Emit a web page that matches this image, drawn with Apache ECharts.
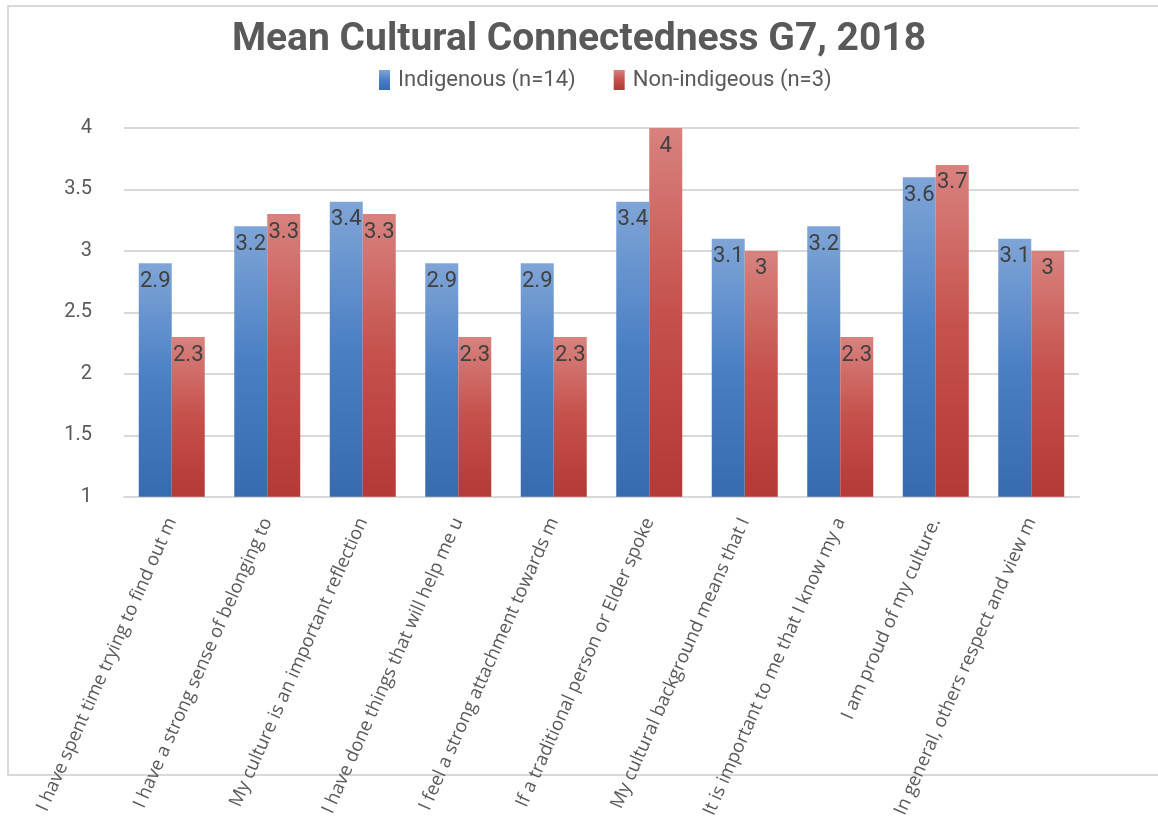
<!DOCTYPE html>
<html>
<head>
<meta charset="utf-8">
<script src="https://cdn.jsdelivr.net/npm/echarts@6/dist/echarts.min.js"></script>
<style>
html,body{margin:0;padding:0;background:#fff;}
#chart{width:1158px;height:821px;}
</style>
</head>
<body>
<div id="chart"></div>
<script>
var categories = [
  "I have spent time trying to find out m",
  "I have a strong sense of belonging to",
  "My culture is an important reflection",
  "I have done things that will help me u",
  "I feel a strong attachment towards m",
  "If a traditional person or Elder spoke",
  "My cultural background means that I",
  "It is important to me that I know my a",
  "I am proud of my culture.",
  "In general, others respect and view m"
];
var indigenous = [2.9, 3.2, 3.4, 2.9, 2.9, 3.4, 3.1, 3.2, 3.6, 3.1];
var nonIndigenous = [2.3, 3.3, 3.3, 2.3, 2.3, 4, 3, 2.3, 3.7, 3];
var seriesNames = ["Indigenous (n=14)", "Non-indigeous (n=3)"];

var narrow = "'Roboto', 'Liberation Sans', sans-serif";

function grad(top, mid, bot) {
  return new echarts.graphic.LinearGradient(0, 0, 0, 1, [
    {offset: 0, color: top},
    {offset: 0.5, color: mid},
    {offset: 1, color: bot}
  ]);
}
var blue = grad('#7fa5d7', '#4a7fc4', '#386aaf');
var red = grad('#d8827e', '#c5504c', '#b33a36');

var chart = echarts.init(document.getElementById('chart'), null, {renderer: 'canvas'});
chart.setOption({
  animation: false,
  backgroundColor: '#ffffff',
  graphic: [{
    type: 'rect',
    shape: {x: 8, y: 6, width: 1170, height: 769},
    style: {fill: 'none', stroke: '#d9d9d9', lineWidth: 2},
    silent: true,
    z: -10
  }],
  title: {
    text: 'Mean Cultural Connectedness G7, 2018',
    left: 'center',
    top: 16,
    textStyle: {fontFamily: narrow, fontWeight: 'bold', fontSize: 39, color: '#595959'}
  },
  legend: {
    top: 64,
    left: 374,
    itemWidth: 11,
    itemHeight: 20,
    itemGap: 38,
    icon: 'rect',
    textStyle: {fontFamily: narrow, fontSize: 22, color: '#595959', padding: [0,0,0,3]},
    data: seriesNames
  },
  grid: {left: 124, right: 79, top: 128, bottom: 323, containLabel: false},
  xAxis: {
    type: 'category',
    data: categories,
    axisLine: {show: true, lineStyle: {color: '#d9d9d9', width: 2}},
    axisTick: {show: false},
    axisLabel: {
      interval: 0,
      rotate: 66,
      margin: 22,
      fontFamily: "'Open Sans', sans-serif",
      fontSize: 18.5,
      color: '#595959'
    }
  },
  yAxis: {
    type: 'value',
    min: 1,
    max: 4,
    interval: 0.5,
    axisLine: {show: false},
    axisTick: {show: false},
    axisLabel: {fontFamily: narrow, fontSize: 20, color: '#595959', margin: 32},
    splitLine: {lineStyle: {color: '#d9d9d9', width: 2}}
  },
  series: [
    {
      name: seriesNames[0],
      type: 'bar',
      data: indigenous,
      barWidth: 33,
      barGap: '0%',
      itemStyle: {color: blue},
      label: {show: true, position: 'insideTop', distance: 7, fontFamily: narrow, fontSize: 22, color: '#404040'}
    },
    {
      name: seriesNames[1],
      type: 'bar',
      data: nonIndigenous,
      barWidth: 33,
      barGap: '0%',
      itemStyle: {color: red},
      label: {show: true, position: 'insideTop', distance: 7, fontFamily: narrow, fontSize: 22, color: '#404040'}
    }
  ]
});
</script>
</body>
</html>
